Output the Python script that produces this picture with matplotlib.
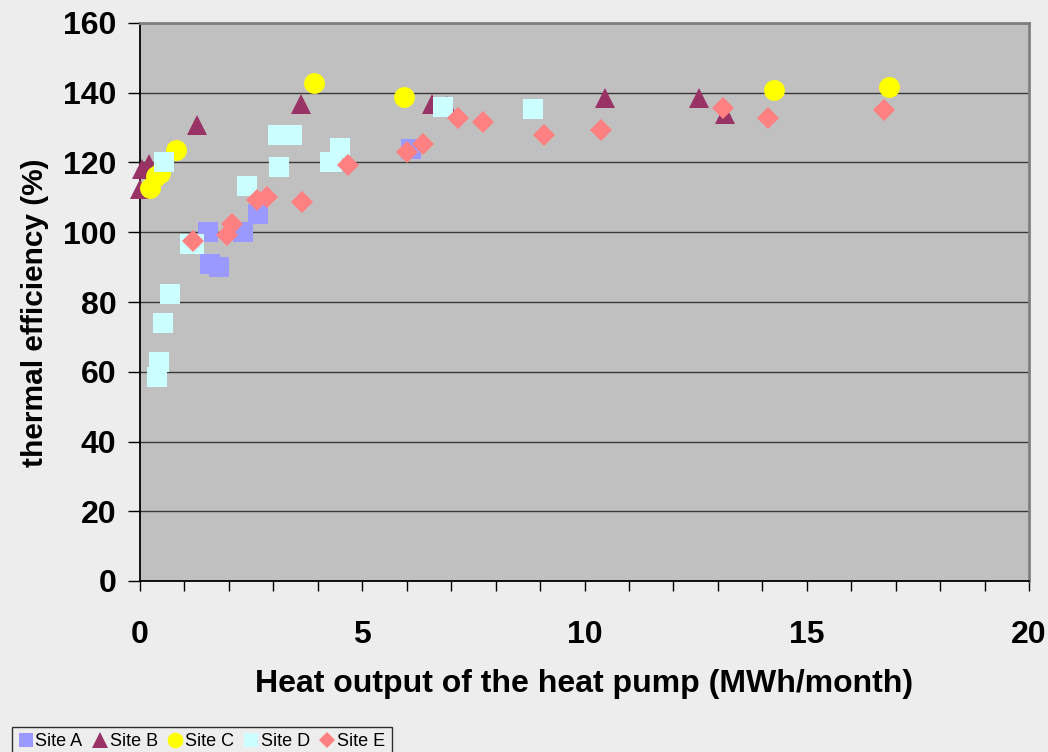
import matplotlib
matplotlib.use("Agg")
import numpy as np
from matplotlib import pyplot as plt

plt.rcParams['font.family'] = ['Liberation Sans', 'DejaVu Sans']
plt.rcParams['font.weight'] = 'bold'

# heat output (MWh/month) and thermal efficiency (%) per site
a_x = [1.53, 1.57, 1.78, 2.31, 2.65, 6.09]
a_y = [100, 91, 89.9, 100, 105.3, 123.9]

b_x = [0.0, 0.04, 0.2, 1.28, 3.62, 6.58, 6.9, 10.47, 12.58, 13.17]
b_y = [112.5, 118.2, 119.5, 130.8, 136.8, 136.8, 136.2, 138.5, 138.5, 133.9]

c_x = [0.22, 0.35, 0.45, 0.81, 3.91, 5.93, 14.27, 16.85]
c_y = [112.8, 116, 117, 123.6, 142.8, 138.8, 140.8, 141.7]

d_x = [0.38, 0.43, 0.52, 0.67, 1.12, 1.22, 0.54, 2.4, 3.1, 3.25, 3.42,
       3.12, 4.27, 4.31, 4.49, 6.81, 8.85]
d_y = [58.4, 62.7, 74.1, 82.4, 96.7, 96.7, 120, 113.3, 128, 128, 128,
       118.8, 120, 120, 124.2, 136, 135.4]

e_x = [1.19, 1.96, 2.07, 2.63, 2.85, 3.64, 4.67, 6.0, 6.36, 7.15, 7.71,
       9.08, 10.36, 13.12, 14.13, 16.74]
e_y = [97.6, 99.3, 102.5, 109.3, 110, 108.8, 119.3, 123, 125.4, 132.8,
       131.7, 128, 129.4, 135.7, 132.8, 135.1]

series = [
    ("Site A", a_x, a_y, "s", "#9999ff", 14),
    ("Site B", b_x, b_y, "^", "#993366", 14.5),
    ("Site C", c_x, c_y, "o", "#ffff00", 15),
    ("Site D", d_x, d_y, "s", "#ccffff", 14),
    ("Site E", e_x, e_y, "D", "#ff8080", 11),
]

fig = plt.figure(figsize=(10.48, 7.52), dpi=100, facecolor="#ededed")
ax = fig.add_axes([140/1048, 171/752, 889/1048, 558/752])
ax.set_facecolor("#c0c0c0")

for name, xs, ys, mk, col, ms in series:
    ax.plot(xs, ys, linestyle="none", marker=mk, color=col, ms=ms,
            markeredgewidth=0, label=name, clip_on=False, zorder=3)

ax.set_xlim(0, 20)
ax.set_ylim(0, 160)
ax.set_xticks(np.arange(0, 21, 5))
ax.set_xticks(np.arange(0, 21, 1), minor=True)
ax.set_yticks(np.arange(0, 161, 20))
ax.grid(axis="y", color="#3a3a3a", linewidth=1, zorder=1)
ax.set_axisbelow(True)

for side in ["top", "right"]:
    ax.spines[side].set_color("#808080")
    ax.spines[side].set_linewidth(2)
for side in ["left", "bottom"]:
    ax.spines[side].set_color("black")
    ax.spines[side].set_linewidth(1.3)

ax.tick_params(axis="x", which="both", direction="out", length=7, width=1,
               pad=21, labelsize=23)
ax.tick_params(axis="y", direction="out", length=9, width=1, pad=8,
               labelsize=23)
for lbl in ax.get_xticklabels() + ax.get_yticklabels():
    lbl.set_fontweight("bold")

ax.set_xlabel("Heat output of the heat pump (MWh/month)", fontsize=23,
              fontweight="bold", labelpad=14)
ax.set_ylabel("thermal efficiency (%)", fontsize=21.5, fontweight="bold")
ax.yaxis.set_label_coords(-0.102, 0.48)

handles = []
for name, xs, ys, mk, col, ms in series:
    h, = ax.plot([], [], linestyle="none", marker=mk, color=col,
                 ms=ms * 0.75, markeredgewidth=0, label=name)
    handles.append(h)

leg = fig.legend(handles=handles, loc="lower left",
                 bbox_to_anchor=(12/1048, -0.006), ncol=5, fontsize=13,
                 frameon=True, fancybox=False, handlelength=0.8,
                 handletextpad=0.15, columnspacing=0.55, borderpad=0.35,
                 borderaxespad=0)
leg.get_frame().set_edgecolor("black")
leg.get_frame().set_facecolor("#ededed")
leg.get_frame().set_linewidth(1)
for t in leg.get_texts():
    t.set_fontweight("normal")

fig.savefig("out.png", dpi=100, facecolor=fig.get_facecolor())
